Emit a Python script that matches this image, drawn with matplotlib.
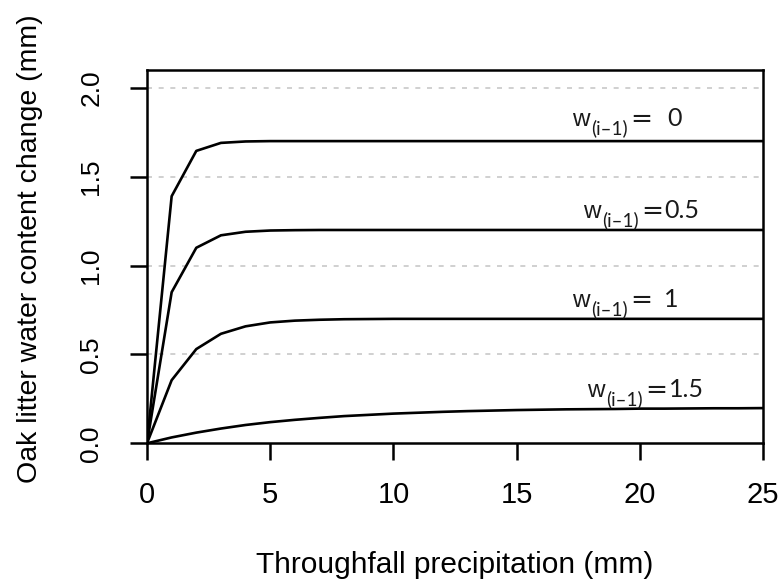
import matplotlib
matplotlib.use("Agg")
import matplotlib.pyplot as plt

plt.rcParams['font.family'] = ['Liberation Sans', 'DejaVu Sans']

x = list(range(0, 26))
w0 = [0, 1.39, 1.645, 1.69, 1.698, 1.70, 1.70, 1.70, 1.70, 1.70, 1.70, 1.70, 1.70,
      1.70, 1.70, 1.70, 1.70, 1.70, 1.70, 1.70, 1.70, 1.70, 1.70, 1.70, 1.70, 1.70]
w05 = [0, 0.85, 1.10, 1.17, 1.19, 1.197, 1.199, 1.20, 1.20, 1.20, 1.20, 1.20, 1.20,
       1.20, 1.20, 1.20, 1.20, 1.20, 1.20, 1.20, 1.20, 1.20, 1.20, 1.20, 1.20, 1.20]
w1 = [0, 0.355, 0.53, 0.616, 0.658, 0.68, 0.69, 0.695, 0.698, 0.699, 0.70, 0.70, 0.70,
      0.70, 0.70, 0.70, 0.70, 0.70, 0.70, 0.70, 0.70, 0.70, 0.70, 0.70, 0.70, 0.70]
w15 = [0, 0.033, 0.060, 0.083, 0.103, 0.119, 0.132, 0.143, 0.153, 0.160, 0.167, 0.172,
       0.177, 0.181, 0.184, 0.187, 0.189, 0.191, 0.192, 0.193, 0.195, 0.195, 0.196,
       0.197, 0.197, 0.198]
series = [w0, w05, w1, w15]
labels = ["0", "0.5", "1", "1.5"]
label_x = [17.25, 17.69, 17.25, 17.86]
label_y = [1.785, 1.270, 0.768, 0.262]
value_gap = [11.0, 1.0, 8.5, 1.0]
xticks = [0, 5, 10, 15, 20, 25]
yticks = [0.0, 0.5, 1.0, 1.5, 2.0]

fig = plt.figure(figsize=(7.82, 5.8), dpi=100)
ax = fig.add_axes([0.188, 0.2357, 0.9757 - 0.188, 0.8793 - 0.2357])

for yv in yticks[1:]:
    ax.axhline(yv, color='#c8c8c8', lw=1.2, ls=(0, (3, 4)), zorder=1)

for s in series:
    ax.plot(x, s, color='black', lw=1.9, zorder=3, solid_joinstyle='round')

for lab, lx, ly, gap in zip(labels, label_x, label_y, value_gap):
    t1 = ax.text(lx, ly, 'w', ha='left', va='baseline', fontsize=17.5,
                 family=['Liberation Sans'], color='#1a1a1a', zorder=4)
    t2 = ax.annotate('(i\u20131)', xy=(1, ly), xycoords=(t1, 'data'),
                     xytext=(1.2, -6.0), textcoords='offset points',
                     ha='left', va='baseline', fontsize=13.5, family=['Lato'],
                     color='#1a1a1a', zorder=4)
    t3 = ax.annotate('=', xy=(1, ly), xycoords=(t2, 'data'),
                     xytext=(1.8, -1.0), textcoords='offset points',
                     ha='left', va='baseline', fontsize=19, family=['DejaVu Sans'],
                     color='#1a1a1a', zorder=4)
    ax.annotate(lab, xy=(1, ly), xycoords=(t3, 'data'),
                xytext=(gap, 0.0), textcoords='offset points',
                ha='left', va='baseline', fontsize=18, family=['Lato'],
                color='#1a1a1a', zorder=4)

ax.set_xlim(0, 25)
ax.set_ylim(0, 2.1)
ax.set_xticks(xticks)
ax.set_xticklabels([str(v) for v in xticks])
ax.set_yticks(yticks)
ax.set_yticklabels([f"{v:.1f}" for v in yticks])
for sp in ax.spines.values():
    sp.set_linewidth(1.8)
ax.tick_params(axis='both', length=12.5, width=1.8, direction='out')
ax.tick_params(axis='x', pad=15, labelsize=21)
ax.tick_params(axis='y', pad=19, labelsize=19, labelrotation=90)
for t in ax.get_yticklabels():
    t.set_va('center')

ax.set_xlabel("Throughfall precipitation (mm)", fontsize=21.5)
ax.xaxis.set_label_coords(0.5, -0.347)
ax.xaxis.label.set_va('baseline')
ax.set_ylabel("Oak litter water content change (mm)", fontsize=20.5)
ax.yaxis.set_label_coords(-0.19, 0.522)
ax.yaxis.label.set_va('center')

fig.savefig("out.png", dpi=100)
